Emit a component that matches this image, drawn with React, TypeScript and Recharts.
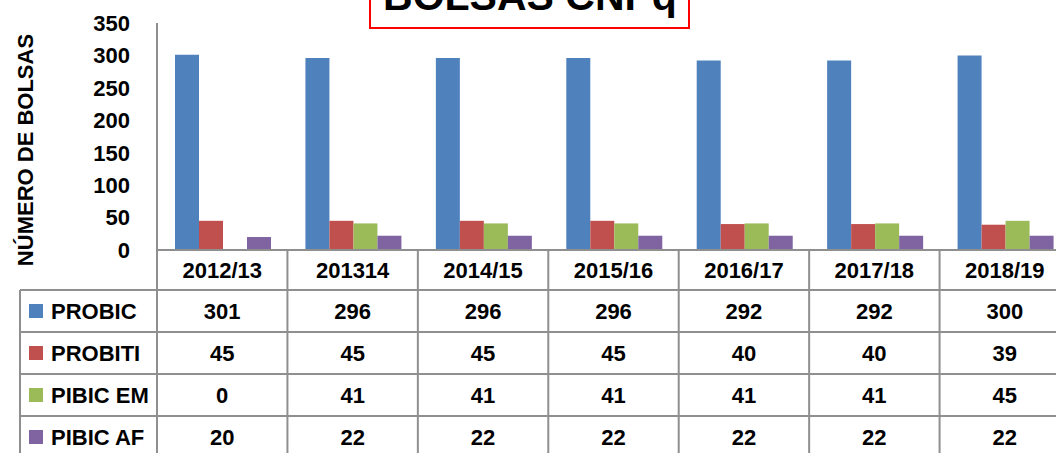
import { BarChart, Bar, XAxis, YAxis } from "recharts";

const years = ["2012/13", "201314", "2014/15", "2015/16", "2016/17", "2017/18", "2018/19"];
const probic = [301, 296, 296, 296, 292, 292, 300];
const probiti = [45, 45, 45, 45, 40, 40, 39];
const pibicEm = [0, 41, 41, 41, 41, 41, 45];
const pibicAf = [20, 22, 22, 22, 22, 22, 22];
const yTicks = [0, 50, 100, 150, 200, 250, 300, 350];

const series = [
  { key: "probic", name: "PROBIC", color: "#4F81BD", values: probic },
  { key: "probiti", name: "PROBITI", color: "#C0504D", values: probiti },
  { key: "pibicEm", name: "PIBIC EM", color: "#9BBB59", values: pibicEm },
  { key: "pibicAf", name: "PIBIC AF", color: "#8064A2", values: pibicAf },
];

const data = years.map((year, i) => ({
  year,
  probic: probic[i],
  probiti: probiti[i],
  pibicEm: pibicEm[i],
  pibicAf: pibicAf[i],
}));

// layout
const W = 1070;
const H = 453;
const PLOT_LEFT = 157;
const PLOT_TOP = 23;
const AXIS_Y = 250;
const HEADER_H = 40;
const ROW_H = 42;
const LEGEND_LEFT = 20;
const bandW = (W - PLOT_LEFT) / years.length;

const FONT = "'Liberation Sans', Arial, sans-serif";
const GRID = "#8f8f8f";

const txt = {
  fontFamily: FONT,
  fontSize: 22,
  fontWeight: 700,
  fill: "#000",
};

function TableTick(props: any) {
  const { x, index, payload } = props;
  const rowTop = AXIS_Y + HEADER_H;
  return (
    <g>
      <text {...txt} x={x} y={AXIS_Y + HEADER_H / 2} textAnchor="middle" dominantBaseline="central">
        {payload.value}
      </text>
      <line x1={x + bandW / 2} x2={x + bandW / 2} y1={AXIS_Y} y2={H} stroke={GRID} strokeWidth={2} />
      {series.map((s, r) => (
        <text
          key={s.key}
          {...txt}
          x={x}
          y={rowTop + ROW_H * r + ROW_H / 2}
          textAnchor="middle"
          dominantBaseline="central"
        >
          {s.values[index]}
        </text>
      ))}
    </g>
  );
}

export default function App() {
  const rowTop = AXIS_Y + HEADER_H;
  return (
    <div
      style={{
        position: "absolute",
        left: 0,
        top: 0,
        width: 1056,
        height: H,
        overflow: "hidden",
        background: "#fff",
      }}
    >
      <BarChart
        width={W}
        height={H}
        data={data}
        margin={{ top: PLOT_TOP, right: 0, left: 0, bottom: 0 }}
        barCategoryGap={18}
        barGap={0}
      >
        <XAxis
          dataKey="year"
          height={H - AXIS_Y}
          interval={0}
          tickLine={false}
          tickSize={0}
          tickMargin={0}
          axisLine={{ stroke: GRID, strokeWidth: 2 }}
          tick={<TableTick />}
        />
        <YAxis
          width={PLOT_LEFT}
          domain={[0, 350]}
          ticks={yTicks}
          interval={0}
          tickLine={false}
          tickSize={0}
          tickMargin={27}
          axisLine={{ stroke: GRID, strokeWidth: 2 }}
          tick={txt}
        />
        {series.map((s) => (
          <Bar key={s.key} dataKey={s.key} name={s.name} fill={s.color} isAnimationActive={false} />
        ))}
      </BarChart>

      <svg
        width={W}
        height={H}
        style={{ position: "absolute", left: 0, top: 0, pointerEvents: "none" }}
      >
        {/* title box, cut off at the top */}
        <rect x={370} y={-40} width={319} height={68} fill="#fff" stroke="#ff0000" strokeWidth={2} />
        <text x={530} y={10} textAnchor="middle" fontFamily={FONT} fontSize={41} fontWeight={700} fill="#000">
          BOLSAS CNPq
        </text>

        {/* y axis title */}
        <text
          {...txt}
          transform={`translate(25, 150) rotate(-90)`}
          x={0}
          y={0}
          textAnchor="middle"
          dominantBaseline="central"
        >
          NÚMERO DE BOLSAS
        </text>

        {/* data table frame */}
        <line x1={PLOT_LEFT} x2={PLOT_LEFT} y1={AXIS_Y} y2={H} stroke={GRID} strokeWidth={2} />
        <line x1={LEGEND_LEFT} x2={LEGEND_LEFT} y1={rowTop} y2={H} stroke={GRID} strokeWidth={2} />
        {series.map((s, r) => (
          <g key={s.key}>
            <line
              x1={LEGEND_LEFT}
              x2={W}
              y1={rowTop + ROW_H * r}
              y2={rowTop + ROW_H * r}
              stroke={GRID}
              strokeWidth={2}
            />
            <rect x={29} y={rowTop + ROW_H * r + ROW_H / 2 - 7} width={14} height={14} fill={s.color} />
            <text {...txt} x={51} y={rowTop + ROW_H * r + ROW_H / 2} dominantBaseline="central">
              {s.name}
            </text>
          </g>
        ))}
      </svg>
    </div>
  );
}
